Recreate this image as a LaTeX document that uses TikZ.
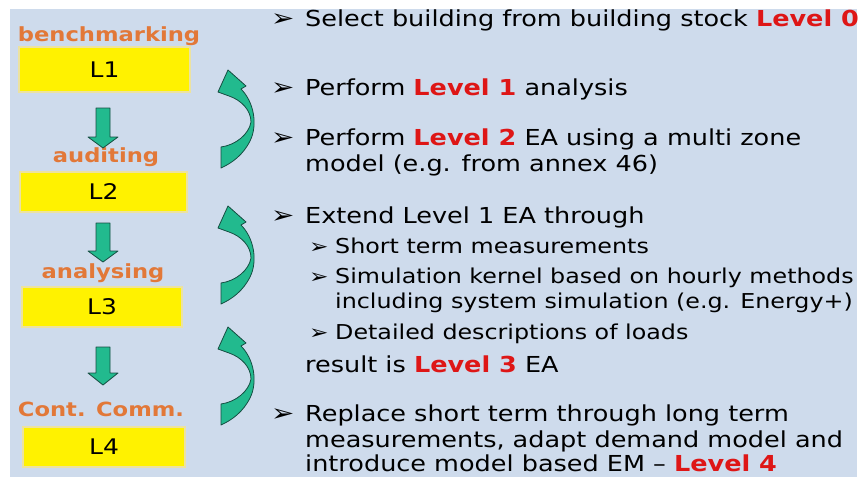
\documentclass[tikz,border=0pt]{standalone}
\usepackage{fontspec}
\setmainfont[FakeStretch=1.16]{DejaVu Sans}
\definecolor{panelblue}{RGB}{206,219,236}
\definecolor{phaseorange}{RGB}{226,120,56}
\definecolor{levelred}{RGB}{222,22,22}
\definecolor{teal}{RGB}{34,186,142}
\definecolor{tealdark}{RGB}{22,78,66}
\definecolor{stageedge}{RGB}{236,226,160}
\newcommand{\lvl}[1]{\textcolor{levelred}{\textbf{#1}}}
\tikzset{
  stage/.style={fill=yellow, draw=stageedge, line width=1.2pt, minimum height=40pt,
    inner sep=0pt, font=\fontsize{21.5}{24}\selectfont},
  phase/.style={text=phaseorange, inner sep=0pt, font=\bfseries\fontsize{19.5}{22}\selectfont},
  item/.style={anchor=base west, inner sep=0pt, font=\fontsize{22}{26}\selectfont},
  subitem/.style={anchor=base west, inner sep=0pt, font=\fontsize{20.5}{24}\selectfont},
  bul/.style={anchor=base west, inner sep=0pt, font=\fontsize{24}{26}\selectfont},
  subbul/.style={bul, font=\fontsize{20}{24}\selectfont},
  blockarrow/.style={fill=teal, draw=tealdark, line width=.8pt, line join=round},
}
\begin{document}
\begin{tikzpicture}[x=1pt,y=-1pt]
  \useasboundingbox (0,0) rectangle (863,479);
  \fill[panelblue] (10,9) rectangle (857,477);

  % levels on the left
  \node[stage, minimum width=171pt, minimum height=45pt] (l1) at (104.5,69.5) {L1};
  \node[stage, minimum width=167pt] (l2) at (103.5,192) {L2};
  \node[stage, minimum width=160pt] (l3) at (102,307) {L3};
  \node[stage, minimum width=162pt] (l4) at (104,447) {L4};
  \node[phase] (bench) at (109,36) {benchmarking};
  \node[phase] (audit) at (106,157) {auditing};
  \node[phase] (analys) at (103,273) {analysing};
  \node[phase] (comm) at (101,409) {Cont. Comm.};

  % down arrows between the levels
  \foreach \a/\b/\c in {108/137/148, 223/251/262, 347/373/385}
    \draw[blockarrow] (96,\a) -- (110,\a) -- (110,\b) -- (118,\b) -- (103,\c)
      -- (88,\b) -- (96,\b) -- cycle;

  % curved feedback arrows
  \foreach \dy in {0,136,257}{
    \begin{scope}[shift={(0,\dy)}]
      \draw[blockarrow] (228,70) -- (246,86) -- (241,89)
        .. controls (254,102) and (258,125) .. (250,141)
        .. controls (243,155) and (232,163) .. (221,168)
        -- (221,147)
        .. controls (236,145) and (249,134) .. (251,122)
        .. controls (251,110) and (241,100) .. (229,96)
        -- (218,92) -- cycle;
    \end{scope}}

  % steps on the right
  \node[bul] (b0) at (271,27) {➢};
  \node[item] (t0) at (305,27) {Select building from building stock \lvl{Level 0}};
  \node[bul] (b1) at (271,95) {➢};
  \node[item] (t1) at (305,95) {Perform \lvl{Level 1} analysis};
  \node[bul] (b2) at (271,145) {➢};
  \node[item] (t2a) at (305,145) {Perform \lvl{Level 2} EA using a multi zone};
  \node[item] (t2b) at (305,171) {model (e.g. from annex 46)};
  \node[bul] (b3) at (271,223) {➢};
  \node[item] (t3) at (305,223) {Extend Level 1 EA through};
  \node[subbul] (s1b) at (309,253) {➢};
  \node[subitem] (s1) at (335,253) {Short term measurements};
  \node[subbul] (s2b) at (309,283) {➢};
  \node[subitem] (s2a) at (335,283) {Simulation kernel based on hourly methods};
  \node[subitem] (s2c) at (335,308) {including system simulation (e.g. Energy+)};
  \node[subbul] (s3b) at (309,339) {➢};
  \node[subitem] (s3) at (335,339) {Detailed descriptions of loads};
  \node[item] (res) at (305,372) {result is \lvl{Level 3} EA};
  \node[bul] (b4) at (271,421) {➢};
  \node[item] (t4a) at (305,421) {Replace short term through long term};
  \node[item] (t4b) at (305,447) {measurements, adapt demand model and};
  \node[item] (t4c) at (305,471) {introduce model based EM – \lvl{Level 4}};
\end{tikzpicture}
\end{document}
